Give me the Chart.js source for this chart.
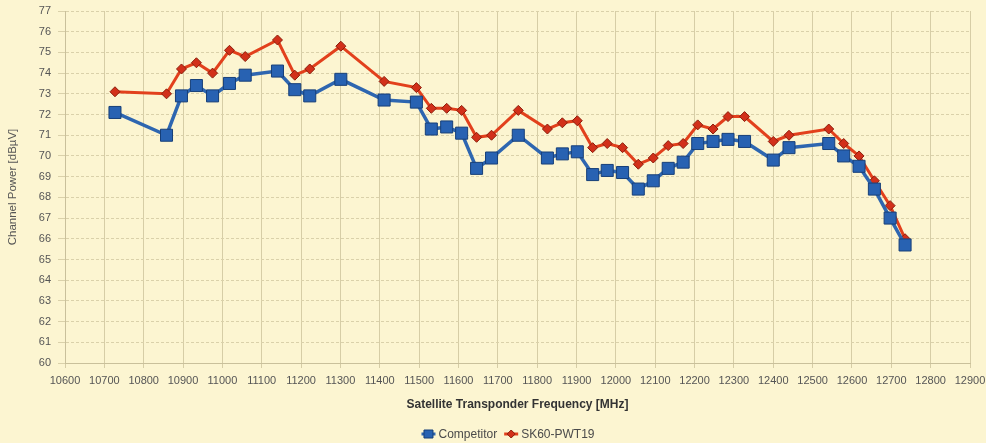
<!DOCTYPE html>
<html>
<head>
<meta charset="utf-8">
<script src="https://cdn.jsdelivr.net/npm/chart.js@4/dist/chart.umd.min.js"></script>
<style>
  html, body { margin: 0; padding: 0; background: #fcf5d1; }
  #wrap { width: 986px; height: 443px; }
</style>
</head>
<body>
<div id="wrap"><canvas id="c" width="986" height="443"></canvas></div>
<script>
// ---- data ----
const frequencies = [10727, 10858, 10896, 10934, 10975, 11018, 11058, 11140, 11184, 11222,
  11301, 11411, 11493, 11531, 11570, 11608, 11646, 11684, 11752, 11826,
  11864, 11902, 11941, 11978, 12017, 12057, 12095, 12133, 12171, 12208,
  12247, 12285, 12327, 12400, 12440, 12541, 12579, 12618, 12657, 12697, 12735];
const competitor = [72.1, 71.0, 72.9, 73.4, 72.9, 73.5, 73.9, 74.1, 73.2, 72.9,
  73.7, 72.7, 72.6, 71.3, 71.4, 71.1, 69.4, 69.9, 71.0, 69.9,
  70.1, 70.2, 69.1, 69.3, 69.2, 68.4, 68.8, 69.4, 69.7, 70.6,
  70.7, 70.8, 70.7, 69.8, 70.4, 70.6, 70.0, 69.5, 68.4, 67.0, 65.7];
const sk60 = [73.1, 73.0, 74.2, 74.5, 74.0, 75.1, 74.8, 75.6, 73.9, 74.2,
  75.3, 73.6, 73.3, 72.3, 72.3, 72.2, 70.9, 71.0, 72.2, 71.3,
  71.6, 71.7, 70.4, 70.6, 70.4, 69.6, 69.9, 70.5, 70.6, 71.5,
  71.3, 71.9, 71.9, 70.7, 71.0, 71.3, 70.6, 70.0, 68.8, 67.6, 66.0];
const seriesNames = ['Competitor', 'SK60-PWT19'];
const xTitle = 'Satellite Transponder Frequency [MHz]';
const yTitle = 'Channel Power [dBµV]';
const xMin = 10600, xMax = 12900, xStep = 100;
const yMin = 60, yMax = 77, yStep = 1;

const FONT = "'Liberation Sans', Arial, sans-serif";

const bgPlugin = {
  id: 'bg',
  beforeDraw(chart) {
    const ctx = chart.ctx;
    ctx.save();
    ctx.fillStyle = '#fcf5d1';
    ctx.fillRect(0, 0, chart.width, chart.height);
    ctx.restore();
  }
};

const legendPlugin = {
  id: 'lineLegend',
  afterDraw(chart) {
    const ctx = chart.ctx;
    ctx.save();
    ctx.font = '12px ' + FONT;
    const symW = 14, gap = 3, spacing = 7;
    const items = chart.data.datasets.map(ds => ({
      label: ds.label, line: ds.borderColor, fill: ds.pointBackgroundColor,
      stroke: ds.pointBorderColor, style: ds.pointStyle,
      w: symW + gap + ctx.measureText(ds.label).width
    }));
    const total = items.reduce((s, it) => s + it.w, 0) + spacing * (items.length - 1);
    let x = 508 - total / 2;
    const y = 434;
    items.forEach(it => {
      ctx.strokeStyle = it.line;
      ctx.lineWidth = 3;
      ctx.beginPath();
      ctx.moveTo(x, y); ctx.lineTo(x + symW, y);
      ctx.stroke();
      const cx = x + symW / 2;
      ctx.fillStyle = it.fill;
      ctx.strokeStyle = it.stroke;
      ctx.lineWidth = 1;
      ctx.beginPath();
      if (it.style === 'rect') {
        ctx.rect(cx - 4.5, y - 4, 9, 8);
      } else {
        ctx.moveTo(cx - 4, y); ctx.lineTo(cx, y - 4); ctx.lineTo(cx + 4, y); ctx.lineTo(cx, y + 4); ctx.closePath();
      }
      ctx.fill(); ctx.stroke();
      ctx.fillStyle = '#4a4a4a';
      ctx.textBaseline = 'middle';
      ctx.textAlign = 'left';
      ctx.fillText(it.label, x + symW + gap, y + 0.5);
      x += it.w + spacing;
    });
    ctx.restore();
  }
};

const toPoints = vals => frequencies.map((f, i) => ({ x: f, y: vals[i] }));

new Chart(document.getElementById('c'), {
  type: 'line',
  data: {
    datasets: [
      {
        label: seriesNames[0],
        data: toPoints(competitor),
        borderColor: '#2e66b0',
        borderWidth: 3.5,
        pointStyle: 'rect',
        pointRadius: 8.5,
        pointHoverRadius: 8.5,
        pointBackgroundColor: '#2862b2',
        pointBorderColor: '#173f78',
        pointBorderWidth: 1,
        tension: 0
      },
      {
        label: seriesNames[1],
        data: toPoints(sk60),
        borderColor: '#e2401c',
        borderWidth: 3,
        pointStyle: 'rectRot',
        pointRadius: 5,
        pointHoverRadius: 5,
        pointBackgroundColor: '#d2301a',
        pointBorderColor: '#8c1e0c',
        pointBorderWidth: 1,
        tension: 0
      }
    ]
  },
  options: {
    responsive: false,
    animation: false,
    devicePixelRatio: 1,
    layout: { padding: { top: 11, right: 16, bottom: 20, left: 0 } },
    plugins: {
      legend: { display: false },
      tooltip: { enabled: false }
    },
    scales: {
      x: {
        type: 'linear',
        min: xMin, max: xMax,
        ticks: {
          stepSize: xStep, autoSkip: false, maxRotation: 0, minRotation: 0,
          color: '#555', font: { family: FONT, size: 11 }, padding: 6,
          callback: v => String(v)
        },
        grid: { color: '#d6cda6', lineWidth: 1, tickLength: 5 },
        border: { display: true, color: '#c9c09b' },
        title: {
          display: true, text: xTitle, color: '#333',
          font: { family: FONT, size: 12, weight: 'bold' },
          padding: { top: 4, bottom: 11 }
        },
        afterFit(scale) { scale.height = 60; scale.paddingLeft = 0; scale.paddingRight = 0; }
      },
      y: {
        type: 'linear',
        min: yMin, max: yMax,
        ticks: {
          stepSize: yStep, autoSkip: false,
          color: '#555', font: { family: FONT, size: 11 }, padding: 7
        },
        grid: { color: '#dad1aa', lineWidth: 1, tickLength: 7 },
        border: { display: true, color: '#c9c09b', dash: [3, 2] },
        title: {
          display: true, text: yTitle, color: '#555',
          font: { family: FONT, size: 11.5 },
          padding: { top: 6, bottom: 4 }
        },
        afterFit(scale) { scale.width = 65; scale.paddingTop = 0; scale.paddingBottom = 0; }
      }
    }
  },
  plugins: [bgPlugin, legendPlugin]
});
</script>
</body>
</html>
